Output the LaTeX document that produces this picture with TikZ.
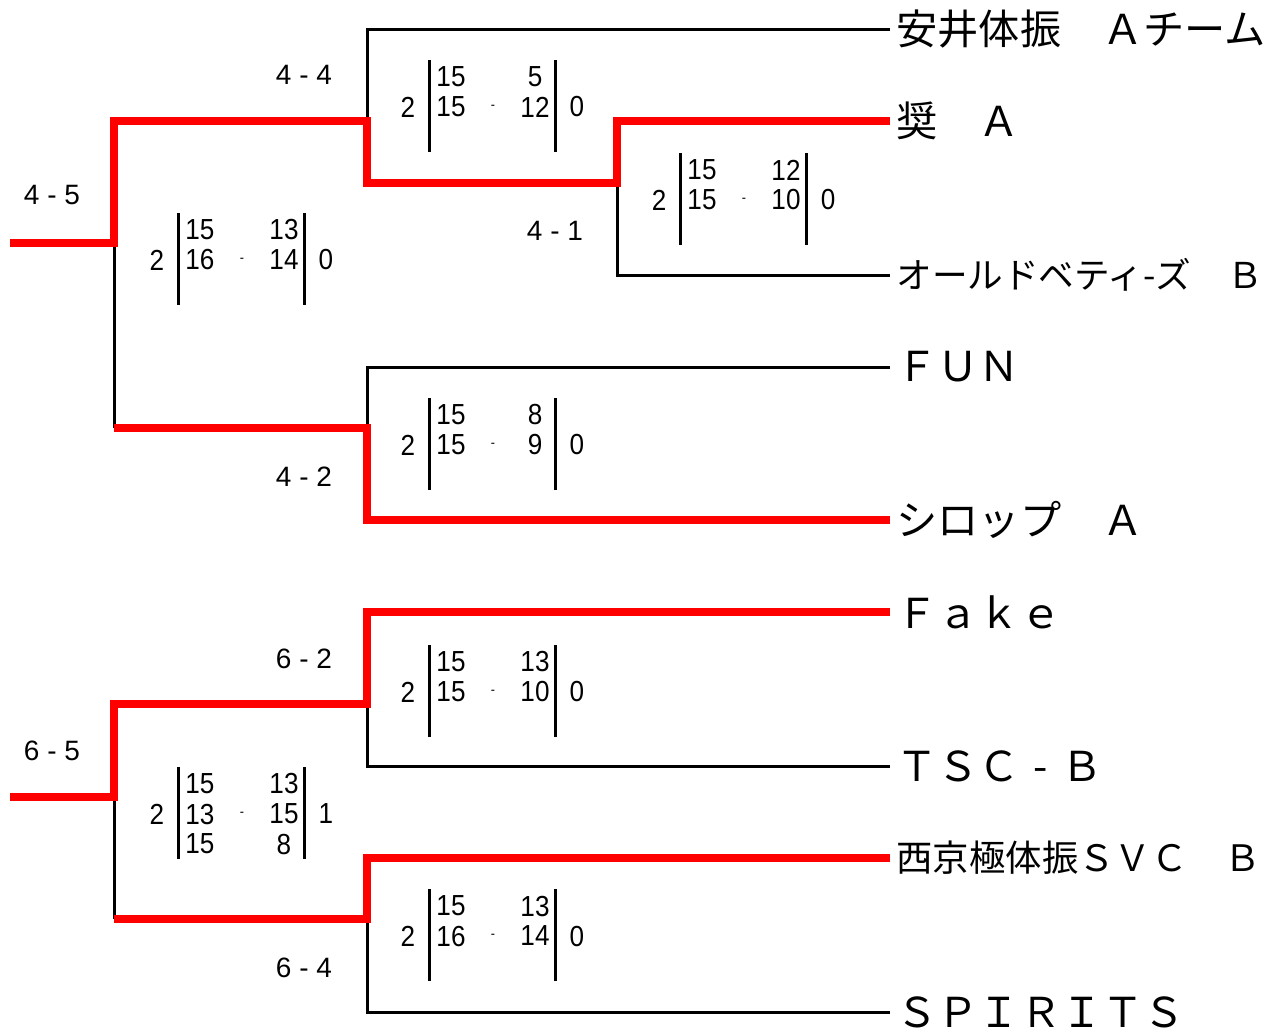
\documentclass[tikz,border=0pt]{standalone}
\usepackage{fontspec}
\setmainfont{Liberation Sans}
\newfontfamily\jpfont{Noto Sans CJK JP}
\newfontfamily\scorefont[FakeStretch=0.9]{Liberation Sans}

\begin{document}
\begin{tikzpicture}
        [x=0.5pt,y=-0.5pt,
        teamdecorate/.style={anchor=west,inner xsep=3pt,inner ysep=0pt},%
        windecorate/.style={draw=red,line width=4pt},%
        losedecorate/.style={draw=black,line width=1.5pt},%
        bardecorate/.style={draw=black,line width=1.5pt},%
        rounddecorate/.style={font=\fontsize{14}{16}\selectfont,inner sep=0pt},%
        scoredecorate/.style={font=\scorefont\fontsize{14.5}{16}\selectfont,inner sep=0pt}]
        \useasboundingbox (0,0) rectangle (1279,1035);
        %% teams

        \foreach \nodename/\y/\size/\teamname in { n1/29/20.6/安井体振　Ａチーム,
          n2/121/20.6/奨　Ａ, n3/275/17.8/オールドベティ-ズ　Ｂ, n4/367/20.6/ＦＵＮ,
          n5/520/20.6/シロップ　Ａ, n6/612/20.6/Ｆａｋｅ, n7/766/20.6/{ＴＳＣ\makebox[1em]{-}Ｂ},
          n8/858/18.2/西京極体振ＳＶＣ　Ｂ, n9/1012/20.6/ＳＰＩＲＩＴＳ}
        {
          \node (\nodename) at (890,\y) [teamdecorate,font=\jpfont\fontsize{\size}{\size}\selectfont] {\teamname};
        }
        %% junctions
        \foreach \nodename/\x/\y in { m1/617/183, m2/367/121, m3/367/428, m4/114/243,
          e1/10/243, m5/367/704, m6/367/919, m7/114/797, e2/10/797}
        {
          \coordinate (\nodename) at (\x,\y);
        }
        %% lines
        \foreach \startnode/\endnode in {n1/m2, n3/m1, n4/m3, n7/m5, n9/m6}
        {
          \draw[losedecorate] (\startnode.west) -| (\endnode);
        }
        \draw[losedecorate] (m3 -| m4) -- (m4);
        \draw[losedecorate] (m6 -| m7) -- (m7);
        \draw[windecorate] (n2.west) -| (m1) -| (m2) -| (m4) -- (e1);
        \draw[windecorate] (n5.west) -| (m3) -- (m3 -| m4);
        \draw[windecorate] (n6.west) -| (m5) -| (m7) -- (e2);
        \draw[windecorate] (n8.west) -| (m6) -- (m6 -| m7);
        %% round results
        \foreach \nodename/\x/\y/\result in { r1/304/75/4 - 4, r2/52/195/4 - 5,
          r3/555/231/4 - 1, r4/304/477/4 - 2, r5/304/659/6 - 2, r6/52/751/6 - 5,
          r7/304/968/6 - 4}
        {
          \node (\nodename) at (\x,\y) [rounddecorate] {\result};
        }
        %% set scores
        \foreach \nodename/\x/\y/\games/\won/\lost in { s1/429/60/{15/5,15/12}/2/0,
          s2/680/153/{15/12,15/10}/2/0, s3/178/213/{15/13,16/14}/2/0,
          s4/429/398/{15/8,15/9}/2/0, s5/429/645/{15/13,15/10}/2/0,
          s6/178/767/{15/13,13/15,15/8}/2/1, s7/429/889/{15/13,16/14}/2/0}
        {
          \draw[bardecorate] (\x,\y) -- ++(0,92) (\x+126,\y) -- ++(0,92);
          \node (\nodename-w) at (\x-21,\y+47) [scoredecorate] {\won};
          \node (\nodename-l) at (\x+148,\y+47) [scoredecorate] {\lost};
          \node (\nodename-d) at (\x+64,\y+47) [scoredecorate,font=\scorefont\fontsize{7}{7}\selectfont] {-};
          \foreach \a/\b [count=\k] in \games
          {
            \node (\nodename-a\k) at (\x+22,\y+30*\k-13) [scoredecorate] {\a};
            \node (\nodename-b\k) at (\x+106,\y+30*\k-13) [scoredecorate] {\b};
          }
        }
      \end{tikzpicture}
\end{document}
